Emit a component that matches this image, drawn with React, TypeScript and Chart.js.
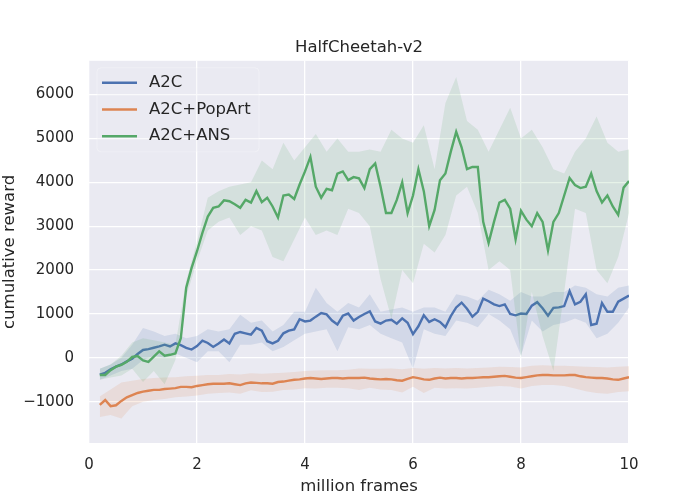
import React, { useEffect, useRef } from 'react';
import { Chart, registerables } from 'chart.js';

Chart.register(...registerables);

const FONT = '"DejaVu Sans", "Liberation Sans", sans-serif';
const TEXT = '#262626';

// x positions (million frames) of the mean curves and of the confidence bands
const framesLine = [
  0.2, 0.3, 0.4, 0.5, 0.6, 0.7, 0.8, 0.9, 1.0, 1.1, 1.2, 1.3, 1.4, 1.5, 1.6, 1.7, 1.8, 1.9, 2.0, 2.1,
  2.2, 2.3, 2.4, 2.5, 2.6, 2.7, 2.8, 2.9, 3.0, 3.1, 3.2, 3.3, 3.4, 3.5, 3.6, 3.7, 3.8, 3.9, 4.0, 4.1,
  4.2, 4.3, 4.4, 4.5, 4.6, 4.7, 4.8, 4.9, 5.0, 5.1, 5.2, 5.3, 5.4, 5.5, 5.6, 5.7, 5.8, 5.9, 6.0, 6.1,
  6.2, 6.3, 6.4, 6.5, 6.6, 6.7, 6.8, 6.9, 7.0, 7.1, 7.2, 7.3, 7.4, 7.5, 7.6, 7.7, 7.8, 7.9, 8.0, 8.1,
  8.2, 8.3, 8.4, 8.5, 8.6, 8.7, 8.8, 8.9, 9.0, 9.1, 9.2, 9.3, 9.4, 9.5, 9.6, 9.7, 9.8, 9.9, 10.0,
];
const framesBand = [
  0.2, 0.4, 0.6, 0.8, 1.0, 1.2, 1.4, 1.6, 1.8, 2.0, 2.2, 2.4, 2.6, 2.8, 3.0, 3.2, 3.4, 3.6, 3.8, 4.0,
  4.2, 4.4, 4.6, 4.8, 5.0, 5.2, 5.4, 5.6, 5.8, 6.0, 6.2, 6.4, 6.6, 6.8, 7.0, 7.2, 7.4, 7.6, 7.8, 8.0,
  8.2, 8.4, 8.6, 8.8, 9.0, 9.2, 9.4, 9.6, 9.8, 10.0,
];

// mean cumulative reward
const a2c = [
  -380, -340, -260, -200, -150, -80, -20, 90, 180, 200,
  230, 260, 300, 260, 330, 290, 230, 190, 270, 390,
  340, 250, 330, 420, 330, 550, 590, 560, 530, 680,
  620, 380, 330, 390, 560, 620, 650, 880, 830, 850,
  940, 1020, 990, 850, 760, 960, 1010, 850, 930, 1000,
  1060, 830, 780, 850, 870, 780, 900, 800, 540, 720,
  970, 820, 880, 820, 700, 950, 1150, 1260, 1120, 940,
  1050, 1350, 1290, 1220, 1180, 1220, 1000, 970, 1010, 1000,
  1190, 1270, 1130, 960, 1140, 1150, 1180, 1520, 1220, 1280,
  1450, 750, 780, 1250, 1050, 1050, 1280, 1350, 1420,
];
const popArt = [
  -1070, -960, -1100, -1080, -980, -900, -850, -800, -770, -750,
  -730, -730, -710, -700, -690, -660, -660, -670, -640, -620,
  -600, -590, -590, -590, -580, -600, -620, -580, -560, -570,
  -580, -580, -590, -550, -540, -520, -500, -490, -470, -460,
  -470, -480, -470, -460, -460, -470, -460, -460, -460, -450,
  -470, -480, -490, -480, -490, -510, -520, -480, -440, -460,
  -490, -500, -470, -450, -470, -460, -460, -470, -460, -460,
  -450, -440, -440, -430, -420, -410, -430, -450, -460, -440,
  -420, -400, -390, -390, -400, -400, -400, -390, -390, -420,
  -440, -450, -460, -460, -470, -490, -500, -470, -440,
];
const ans = [
  -390, -390, -280, -200, -160, -90, 20, 40, -60, -90,
  30, 150, 50, 70, 100, 450, 1600, 2050, 2430, 2850,
  3220, 3420, 3450, 3590, 3570, 3500, 3420, 3600, 3540, 3800,
  3550, 3650, 3450, 3200, 3700, 3720, 3620, 3950, 4250, 4580,
  3900, 3650, 3850, 3820, 4200, 4250, 4050, 4120, 4090, 3870,
  4300, 4430, 3900, 3300, 3300, 3600, 4000, 3300, 3700, 4300,
  3800, 3000, 3370, 4050, 4200, 4700, 5150, 4800, 4300, 4350,
  4350, 3100, 2620, 3100, 3540, 3600, 3400, 2700, 3350, 3150,
  3000, 3300, 3100, 2450, 3100, 3300, 3700, 4100, 3940, 3870,
  3900, 4200, 3800, 3540, 3700, 3450, 3260, 3880, 4030,
];

// band edges
const a2cHi = [
  -250, -150, 0, 300, 680, 600, 500, 550, 450, 500,
  650, 600, 650, 980, 800, 850, 600, 750, 1050, 1050,
  1600, 1250, 1050, 1250, 1150, 1450, 1050, 1100, 1150, 1050,
  1150, 1150, 1050, 1450, 1400, 1300, 1550, 1450, 1300, 1500,
  1400, 1400, 1500, 1500, 1650, 1600, 1450, 1400, 1600, 1650,
];
const a2cLo = [
  -500, -400, -300, -250, -50, 50, 0, 100, 0, -100,
  150, 150, -100, 300, 300, 350, 150, 250, 400, 550,
  600, 650, 150, 700, 650, 750, 550, 450, 350, -250,
  650, 550, 500, 850, 800, 700, 1000, 850, 650, 50,
  850, 600, 750, 800, 900, 800, 450, 550, 800, 1150,
];
const popArtHi = [
  -880, -720, -560, -520, -480, -460, -450, -440, -420, -410,
  -390, -390, -370, -380, -350, -360, -350, -340, -320, -300,
  -290, -280, -280, -270, -240, -250, -250, -240, -260, -230,
  -250, -230, -240, -230, -240, -230, -220, -200, -210, -220,
  -180, -170, -180, -180, -190, -200, -210, -220, -200, -190,
];
const popArtLo = [
  -1350, -1300, -1380, -1100, -1000, -960, -940, -900, -880, -860,
  -820, -800, -790, -820, -740, -780, -770, -730, -720, -690,
  -700, -680, -680, -690, -730, -680, -720, -730, -790, -660,
  -800, -680, -700, -690, -700, -680, -660, -640, -650, -700,
  -640, -620, -620, -640, -700, -760, -800, -820, -780, -760,
];
const ansHi = [
  -250, -150, 50, 350, 450, 400, 350, 300, 1750, 2650,
  3650, 3800, 3900, 3950, 4000, 4500, 4300, 4900, 4500, 4800,
  5100, 4700, 5000, 4700, 4700, 4750, 4700, 5200, 5000, 4900,
  5300, 4300, 5800, 6400, 5400, 5200, 4700, 5200, 5700, 5000,
  5200, 4800, 4300, 4200, 4700, 5000, 5500, 4900, 4700, 4750,
];
const ansLo = [
  -500, -450, -400, -250, -550, -300, -600, -50, 1400, 2200,
  2900, 3100, 3200, 2800, 3000, 2900, 2300, 2200, 2700, 3200,
  2800, 2900, 2800, 3400, 3300, 3000, 1800, 900, 2000, 1700,
  2600, 2400, 2800, 3700, 3900, 3300, 2000, 2200, 2000, 0,
  1500, 500, -300, 1500, 3400, 3300, 2000, 1700, 2300, 3300,
];

const seriesNames = ['A2C', 'A2C+PopArt', 'A2C+ANS'];
const seriesColors = ['#4c72b0', '#dd8452', '#55a868'];
const bandColors = ['rgba(76,114,176,0.15)', 'rgba(221,132,82,0.15)', 'rgba(85,168,104,0.15)'];

const xTicks = [0, 2, 4, 6, 8, 10];
const yTicks = [-1000, 0, 1000, 2000, 3000, 4000, 5000, 6000];

const pts = (xs: number[], ys: number[]) => xs.map((x, i) => ({ x, y: ys[i] }));

const bgPlugin = {
  id: 'bg',
  beforeDraw(chart: any) {
    const { ctx, chartArea: a } = chart;
    ctx.save();
    ctx.fillStyle = '#ffffff';
    ctx.fillRect(0, 0, chart.width, chart.height);
    ctx.fillStyle = '#eaeaf2';
    ctx.fillRect(a.left, a.top, a.right - a.left, a.bottom - a.top);
    ctx.restore();
  },
};

const legendPlugin = {
  id: 'boxLegend',
  afterDraw(chart: any) {
    const { ctx, chartArea: a } = chart;
    const x0 = a.left + 8;
    const y0 = a.top + 7;
    ctx.save();
    ctx.beginPath();
    ctx.roundRect(x0, y0, 162, 84, 4);
    ctx.fillStyle = 'rgba(234,234,242,0.3)';
    ctx.fill();
    ctx.strokeStyle = 'rgba(255,255,255,0.3)';
    ctx.lineWidth = 1;
    ctx.stroke();
    seriesNames.forEach((name, i) => {
      const y = y0 + 15 + i * 26.7;
      ctx.beginPath();
      ctx.strokeStyle = seriesColors[i];
      ctx.lineWidth = 2.4;
      ctx.moveTo(x0 + 5, y);
      ctx.lineTo(x0 + 40, y);
      ctx.stroke();
      ctx.fillStyle = TEXT;
      ctx.font = `16.5px ${FONT}`;
      ctx.textBaseline = 'middle';
      ctx.fillText(name, x0 + 52, y);
    });
    ctx.restore();
  },
};

const App: React.FC = () => {
  const chartRef = useRef<HTMLCanvasElement>(null);

  useEffect(() => {
    if (!chartRef.current) return;
    const ctx = chartRef.current.getContext('2d');
    if (!ctx) return;

    const means = [a2c, popArt, ans];
    const his = [a2cHi, popArtHi, ansHi];
    const los = [a2cLo, popArtLo, ansLo];

    // each series: upper edge, lower edge (filled to upper), mean line; later series on top
    const datasets: any[] = [];
    seriesNames.forEach((name, i) => {
      const base = datasets.length;
      const order = (2 - i) * 2;
      datasets.push({
        label: name + ' hi',
        data: pts(framesBand, his[i]),
        borderWidth: 0,
        borderColor: 'transparent',
        pointRadius: 0,
        fill: false,
        order: order + 1,
      });
      datasets.push({
        label: name + ' lo',
        data: pts(framesBand, los[i]),
        borderWidth: 0,
        borderColor: 'transparent',
        backgroundColor: bandColors[i],
        pointRadius: 0,
        fill: { target: base },
        order: order + 1,
      });
      datasets.push({
        label: name,
        data: pts(framesLine, means[i]),
        borderColor: seriesColors[i],
        borderWidth: 2.4,
        pointRadius: 0,
        fill: false,
        order,
      });
    });

    const tickFont = { family: FONT, size: 15 };
    const labelFont = { family: FONT, size: 16.5 };

    const chart = new Chart(ctx, {
      type: 'line',
      data: { datasets },
      options: {
        responsive: false,
        animation: false,
        layout: { padding: { left: 0, right: 71, top: 0, bottom: 0 } },
        plugins: {
          legend: { display: false },
          tooltip: { enabled: false },
          title: {
            display: true,
            text: 'HalfCheetah-v2',
            color: TEXT,
            font: { ...labelFont, weight: 'normal' },
            padding: { top: 38, bottom: 3 },
            fullSize: false,
          },
        },
        scales: {
          x: {
            type: 'linear',
            min: 0,
            max: 10,
            afterBuildTicks: (s: any) => {
              s.ticks = xTicks.map((v) => ({ value: v }));
            },
            afterFit: (s: any) => {
              s.height = 57;
            },
            ticks: { color: TEXT, font: tickFont, padding: 13, maxRotation: 0 },
            grid: { color: '#ffffff', lineWidth: 1.3, drawTicks: false },
            border: { display: false },
            title: {
              display: true,
              text: 'million frames',
              color: TEXT,
              font: labelFont,
              padding: { top: 0, bottom: 3 },
            },
          },
          y: {
            type: 'linear',
            min: -1940,
            max: 6770,
            afterBuildTicks: (s: any) => {
              s.ticks = yTicks.map((v) => ({ value: v }));
            },
            afterFit: (s: any) => {
              s.width = 89;
            },
            ticks: {
              color: TEXT,
              font: tickFont,
              padding: 15,
              callback: (v: any) => String(v).replace('-', '\u2212'),
            },
            grid: { color: '#ffffff', lineWidth: 1.3, drawTicks: false },
            border: { display: false },
            title: {
              display: true,
              text: 'cumulative reward',
              color: TEXT,
              font: labelFont,
              padding: { top: 0, bottom: 0 },
            },
          },
        },
      } as any,
      plugins: [bgPlugin, legendPlugin],
    });

    return () => {
      chart.destroy();
    };
  }, []);

  return (
    <div style={{ position: 'fixed', left: 0, top: 0, width: 700, height: 500, background: '#fff' }}>
      <canvas ref={chartRef} width={700} height={500}></canvas>
    </div>
  );
};

export default App;
